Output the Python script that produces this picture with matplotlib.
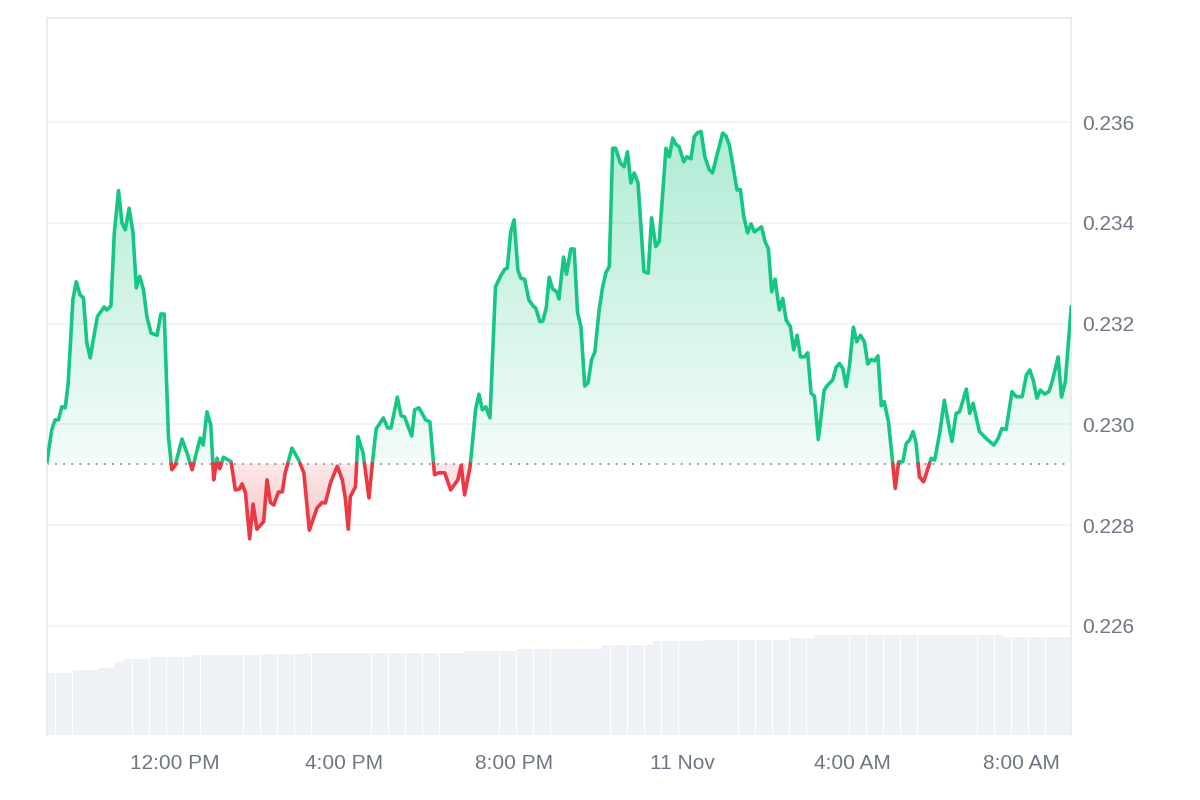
import numpy as np
import matplotlib
matplotlib.use("Agg")
import matplotlib.pyplot as plt

plt.rcParams['font.family'] = ['Liberation Sans', 'DejaVu Sans']

# hours since 10 Nov 00:00
hours = [8.97, 9.08, 9.16, 9.24, 9.32, 9.40, 9.47, 9.58, 9.66, 9.75, 9.83, 9.91, 9.99, 10.07, 10.16, 10.32,
         10.38, 10.48, 10.56, 10.66, 10.74, 10.82, 10.91, 11.00, 11.08, 11.16, 11.25, 11.33, 11.43, 11.57,
         11.66, 11.74, 11.84, 11.92, 12.00, 12.16, 12.28, 12.40, 12.59, 12.66, 12.75, 12.84, 12.91, 12.99,
         13.05, 13.14, 13.32, 13.42, 13.52, 13.58, 13.66, 13.76, 13.84, 13.93, 14.09, 14.17, 14.25, 14.33,
         14.44, 14.53, 14.60, 14.76, 14.92, 15.04, 15.17, 15.35, 15.47, 15.55, 15.67, 15.83, 15.95, 16.02,
         16.09, 16.14, 16.26, 16.32, 16.44, 16.58, 16.66, 16.75, 16.92, 17.02, 17.10, 17.25, 17.34, 17.42,
         17.59, 17.66, 17.76, 17.92, 18.02, 18.13, 18.23, 18.37, 18.51, 18.68, 18.76, 18.84, 18.97, 19.10,
         19.18, 19.26, 19.34, 19.44, 19.57, 19.69, 19.79, 19.85, 19.93, 20.01, 20.10, 20.17, 20.26, 20.36,
         20.47, 20.52, 20.62, 20.69, 20.77, 20.84, 20.92, 21.02, 21.07, 21.18, 21.25, 21.35, 21.43, 21.51,
         21.59, 21.68, 21.76, 21.84, 21.92, 22.02, 22.10, 22.18, 22.26, 22.34, 22.41, 22.52, 22.61, 22.69,
         22.77, 22.85, 22.94, 23.08, 23.18, 23.26, 23.36, 23.44, 23.60, 23.68, 23.76, 23.83, 23.91, 24.02,
         24.09, 24.19, 24.27, 24.35, 24.43, 24.52, 24.62, 24.70, 24.82, 24.94, 25.02, 25.10, 25.28, 25.36,
         25.44, 25.53, 25.61, 25.69, 25.86, 25.94, 26.02, 26.10, 26.18, 26.28, 26.36, 26.44, 26.54, 26.62,
         26.70, 26.78, 26.87, 26.95, 27.03, 27.11, 27.20, 27.34, 27.42, 27.54, 27.62, 27.70, 27.78, 27.86,
         27.94, 28.03, 28.11, 28.20, 28.29, 28.37, 28.45, 28.53, 28.61, 28.69, 28.76, 28.86, 29.02, 29.10,
         29.20, 29.28, 29.36, 29.44, 29.51, 29.59, 29.69, 29.81, 29.87, 29.95, 30.07, 30.18, 30.26, 30.36,
         30.46, 30.54, 30.70, 30.78, 30.86, 31.01, 31.17, 31.35, 31.45, 31.54, 31.64, 31.78, 31.88, 32.02,
         32.12, 32.20, 32.28, 32.37, 32.45, 32.55, 32.65, 32.73, 32.87, 32.95, 33.04, 33.18]

prices = [0.22926, 0.22989, 0.23009, 0.23009, 0.23035, 0.23033, 0.23082, 0.23247, 0.23283, 0.23257,
          0.23251, 0.23162, 0.23132, 0.23171, 0.23214, 0.23233, 0.23227, 0.23235, 0.23380, 0.23464,
          0.23400, 0.23386, 0.23429, 0.23382, 0.23271, 0.23294, 0.23267, 0.23214, 0.23181, 0.23177,
          0.23219, 0.23219, 0.22976, 0.22910, 0.22919, 0.22971, 0.22943, 0.22910, 0.22973, 0.22959,
          0.23025, 0.22999, 0.22890, 0.22933, 0.22912, 0.22935, 0.22926, 0.22870, 0.22872, 0.22882,
          0.22864, 0.22773, 0.22842, 0.22792, 0.22807, 0.22890, 0.22845, 0.22840, 0.22866, 0.22866,
          0.22904, 0.22953, 0.22929, 0.22904, 0.22790, 0.22834, 0.22845, 0.22844, 0.22884, 0.22917,
          0.22890, 0.22854, 0.22792, 0.22857, 0.22876, 0.22976, 0.22943, 0.22854, 0.22923, 0.22991,
          0.23013, 0.22993, 0.22993, 0.23054, 0.23017, 0.23015, 0.22977, 0.23029, 0.23033, 0.23009,
          0.23005, 0.22900, 0.22904, 0.22904, 0.22870, 0.22890, 0.22919, 0.22860, 0.22916, 0.23029,
          0.23060, 0.23029, 0.23035, 0.23013, 0.23273, 0.23294, 0.23308, 0.23310, 0.23382, 0.23406,
          0.23306, 0.23290, 0.23288, 0.23247, 0.23234, 0.23231, 0.23204, 0.23205, 0.23231, 0.23292,
          0.23269, 0.23263, 0.23249, 0.23332, 0.23298, 0.23348, 0.23348, 0.23222, 0.23194, 0.23076,
          0.23083, 0.23128, 0.23144, 0.23227, 0.23271, 0.23301, 0.23313, 0.23548, 0.23548, 0.23519,
          0.23511, 0.23541, 0.23479, 0.23499, 0.23479, 0.23303, 0.23300, 0.23410, 0.23353, 0.23363,
          0.23548, 0.23531, 0.23568, 0.23556, 0.23551, 0.23521, 0.23531, 0.23527, 0.23571, 0.23579,
          0.23581, 0.23531, 0.23506, 0.23499, 0.23539, 0.23578, 0.23572, 0.23554, 0.23465, 0.23466,
          0.23412, 0.23380, 0.23398, 0.23382, 0.23392, 0.23363, 0.23349, 0.23263, 0.23288, 0.23227,
          0.23250, 0.23207, 0.23194, 0.23148, 0.23177, 0.23134, 0.23134, 0.23142, 0.23062, 0.23056,
          0.22970, 0.23068, 0.23078, 0.23088, 0.23113, 0.23121, 0.23111, 0.23075, 0.23118, 0.23193,
          0.23164, 0.23177, 0.23164, 0.23120, 0.23129, 0.23126, 0.23136, 0.23037, 0.23045, 0.23005,
          0.22873, 0.22926, 0.22926, 0.22962, 0.22969, 0.22986, 0.22964, 0.22896, 0.22886, 0.22917,
          0.22933, 0.22929, 0.22982, 0.23048, 0.23009, 0.22966, 0.23022, 0.23025, 0.23070, 0.23022,
          0.23042, 0.22986, 0.22972, 0.22959, 0.22972, 0.22992, 0.22990, 0.23065, 0.23055, 0.23055,
          0.23098, 0.23108, 0.23088, 0.23052, 0.23068, 0.23060, 0.23065, 0.23085, 0.23134, 0.23054,
          0.23085, 0.23234]

ref_price = 0.22922

# volume bars (millions), 120 bars across the window
volume = [6.2, 6.2, 6.2, 6.5, 6.5, 6.5, 6.7, 6.7, 7.3, 7.6, 7.6, 7.6,
          7.8, 7.8, 7.8, 7.8, 7.8, 8.0, 8.0, 8.0, 8.0, 8.0, 8.0, 8.0, 8.0,
          8.1, 8.1, 8.1, 8.1, 8.1,
          8.2, 8.2, 8.2, 8.2, 8.2, 8.2, 8.2, 8.2, 8.2, 8.2, 8.2, 8.2, 8.2, 8.2, 8.2, 8.2, 8.2, 8.2, 8.2,
          8.4, 8.4, 8.4, 8.4, 8.4, 8.4,
          8.6, 8.6, 8.6, 8.6, 8.6, 8.6, 8.6, 8.6, 8.6, 8.6,
          9.0, 9.0, 9.0, 9.0, 9.0, 9.0,
          9.4, 9.4, 9.4, 9.4, 9.4, 9.4,
          9.5, 9.5, 9.5, 9.5, 9.5, 9.5, 9.5, 9.5, 9.5, 9.5,
          9.7, 9.7, 9.7,
          10.0, 10.0, 10.0, 10.0, 10.0, 10.0, 10.0, 10.0, 10.0, 10.0, 10.0,
          10.0, 10.0, 10.0, 10.0, 10.0, 10.0, 10.0, 10.0, 10.0, 10.0, 10.0,
          9.8, 9.8, 9.8, 9.8, 9.8, 9.8, 9.8, 9.8]

tick_hours = [12, 16, 20, 24, 28, 32]
tick_labels = ['12:00 PM', '4:00 PM', '8:00 PM', '11 Nov', '4:00 AM', '8:00 AM']
y_ticks = [0.226, 0.228, 0.230, 0.232, 0.234, 0.236]

GREEN = '#16c784'
RED = '#ea3943'
TEXT = '#6f7683'

t = np.array(hours)
p = np.array(prices)

# add points where the line crosses the reference price
tt, pp = [t[0]], [p[0]]
for i in range(1, len(t)):
    a, b = p[i - 1] - ref_price, p[i] - ref_price
    if a * b < 0:
        f = a / (a - b)
        tt.append(t[i - 1] + f * (t[i] - t[i - 1]))
        pp.append(ref_price)
    tt.append(t[i])
    pp.append(p[i])
tt = np.array(tt)
pp = np.array(pp)

fig = plt.figure(figsize=(12, 8), dpi=100)
ax = fig.add_axes([0.0392, 0.08125, 0.8535, 0.8959])
axv = ax.twinx()
ax.set_zorder(axv.get_zorder() + 1)
ax.patch.set_visible(False)

ymin, ymax = 0.223837, 0.238058
x0, x1 = t[0], t[-1]

# volume
n = len(volume)
edges = np.linspace(x0, x1, n + 1)
step = edges[1] - edges[0]
axv.bar(edges[:-1] + step / 2, volume, width=step * 0.96, color='#eef1f5', linewidth=0)
axv.set_ylim(0, 71.7)
axv.set_yticks([])
for s in axv.spines.values():
    s.set_visible(False)

# gradient fills
ext = [x0, x1, ymin, ymax]
poly_g = ax.fill_between(tt, np.maximum(pp, ref_price), ref_price, facecolor='none', edgecolor='none')
grad = np.zeros((256, 2, 4))
yy = np.linspace(ymax, ymin, 256)
grad[:, :, :3] = matplotlib.colors.to_rgb(GREEN)
a_g = np.clip(0.05 + 0.30 * (yy - ref_price) / (0.236 - ref_price), 0, 0.35)
grad[:, :, 3] = a_g[:, None]
im_g = ax.imshow(grad, extent=ext, aspect='auto', zorder=1, interpolation='bilinear')
im_g.set_clip_path(poly_g.get_paths()[0], ax.transData)

poly_r = ax.fill_between(tt, np.minimum(pp, ref_price), ref_price, facecolor='none', edgecolor='none')
gradr = np.zeros((256, 2, 4))
gradr[:, :, :3] = matplotlib.colors.to_rgb(RED)
a_r = np.clip(0.12 + 0.18 * (ref_price - yy) / (ref_price - 0.2277), 0, 0.32)
gradr[:, :, 3] = a_r[:, None]
im_r = ax.imshow(gradr, extent=ext, aspect='auto', zorder=1, interpolation='bilinear')
im_r.set_clip_path(poly_r.get_paths()[0], ax.transData)

# price line
green = np.where(pp >= ref_price, pp, np.nan)
red = np.where(pp <= ref_price, pp, np.nan)
ax.plot(tt, green, color=GREEN, lw=2.6, zorder=3, solid_joinstyle='round', solid_capstyle='round')
ax.plot(tt, red, color=RED, lw=2.6, zorder=3, solid_joinstyle='round', solid_capstyle='round')

ax.axhline(ref_price, color='#8c929c', lw=1.3, linestyle=(0, (1, 3.5)), zorder=2)

ax.set_xlim(x0, x1)
ax.set_ylim(ymin, ymax)
ax.set_yticks(y_ticks)
ax.set_yticklabels([f'{v:.3f}' for v in y_ticks])
ax.yaxis.tick_right()
ax.set_xticks(tick_hours)
ax.set_xticklabels(tick_labels)
ax.tick_params(axis='both', length=0, labelsize=15, colors=TEXT)
ax.tick_params(axis='y', pad=8)
ax.tick_params(axis='x', pad=14)
ax.grid(axis='y', color='#eff1f4', lw=1.2, zorder=0)
ax.set_axisbelow(True)

for side in ['top', 'left', 'right']:
    ax.spines[side].set_color('#e8eaed')
    ax.spines[side].set_linewidth(1.2)
ax.spines['bottom'].set_visible(False)

fig.savefig('out.png', dpi=100)
